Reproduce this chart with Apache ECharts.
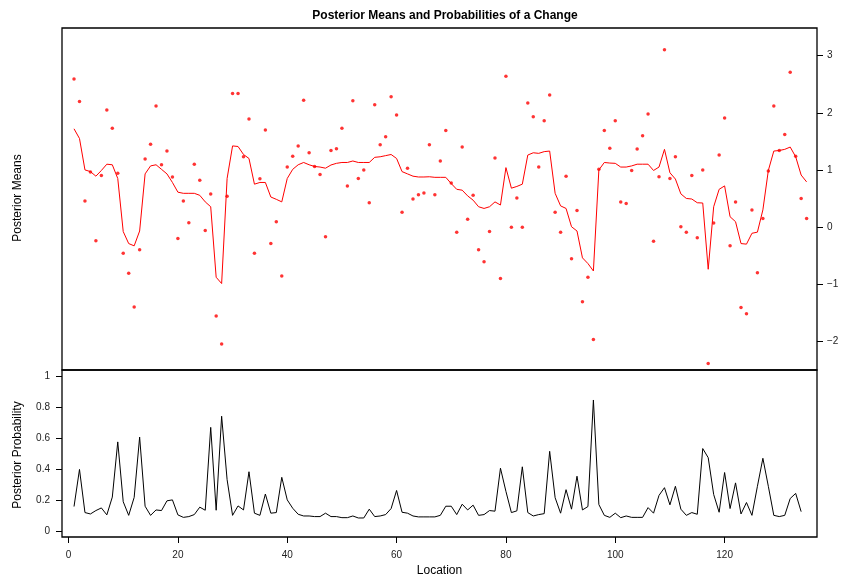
<!DOCTYPE html>
<html><head><meta charset="utf-8">
<script src="https://cdn.jsdelivr.net/npm/echarts@6/dist/echarts.min.js"></script>
<style>html,body{margin:0;padding:0;background:#fff}#c{width:844px;height:578px}</style>
</head><body><div id="c"></div>
<script>
// Observed data (red points), locations 1..135
const observed = [2.59,2.20,0.455,0.963,-0.24,0.90,2.05,1.73,0.94,-0.46,
-0.81,-1.40,-0.40,1.19,1.45,2.12,1.09,1.33,0.876,-0.20,
0.455,0.075,1.10,0.82,-0.06,0.58,-1.56,-2.05,0.54,2.34,
2.34,1.23,1.89,-0.46,0.846,1.70,-0.29,0.093,-0.86,1.05,
1.24,1.42,2.22,1.30,1.06,0.92,-0.17,1.34,1.37,1.73,
0.72,2.21,0.85,1.00,0.425,2.14,1.44,1.58,2.28,1.96,
0.26,1.03,0.49,0.566,0.595,1.44,0.566,1.156,1.69,0.77,
-0.09,1.40,0.135,0.555,-0.40,-0.61,-0.08,1.21,-0.90,2.64,
-0.005,0.51,-0.005,2.17,1.93,1.05,1.86,2.31,0.26,-0.09,
0.89,-0.555,0.29,-1.31,-0.88,-1.97,1.01,1.69,1.38,1.86,
0.44,0.41,0.99,1.366,1.60,1.98,-0.25,0.88,3.105,0.85,
1.23,0.006,-0.09,0.90,-0.19,1.00,-2.39,0.07,1.26,1.91,
-0.33,0.44,-1.41,-1.52,0.30,-0.80,0.15,0.98,2.12,1.34,
1.62,2.71,1.24,0.50,0.15];
// Posterior means (red line)
const postMeans = [1.72,1.55,1.00,0.97,0.89,0.99,1.10,1.09,0.85,-0.08,
-0.29,-0.33,-0.07,0.93,1.07,1.09,1.01,0.93,0.78,0.61,
0.59,0.59,0.59,0.555,0.44,0.355,-0.88,-0.99,0.85,1.42,
1.41,1.27,1.20,0.75,0.78,0.78,0.525,0.485,0.44,0.85,
1.01,1.09,1.13,1.09,1.06,1.05,1.03,1.086,1.115,1.13,
1.13,1.156,1.13,1.13,1.13,1.22,1.23,1.25,1.27,1.20,
0.97,0.93,0.89,0.876,0.876,0.88,0.87,0.87,0.87,0.76,
0.66,0.645,0.545,0.47,0.355,0.325,0.355,0.44,0.385,1.04,
0.68,0.71,0.75,1.26,1.30,1.29,1.32,1.33,0.59,0.37,
0.325,0.005,-0.07,-0.54,-0.64,-0.77,1.00,1.13,1.12,1.115,
1.05,1.05,1.07,1.10,1.10,1.10,0.99,1.05,1.36,0.95,
0.84,0.58,0.50,0.49,0.425,0.42,-0.74,0.355,0.66,0.72,
0.18,0.093,-0.29,-0.30,-0.11,-0.09,0.30,0.99,1.33,1.34,
1.36,1.40,1.23,0.91,0.79];
// Posterior probability of a change (black line), locations 1..134
const postProb = [0.157,0.397,0.118,0.109,0.131,0.148,0.103,0.218,0.575,0.188,
0.10,0.216,0.606,0.159,0.10,0.135,0.131,0.194,0.20,0.103,
0.087,0.092,0.105,0.153,0.133,0.669,0.133,0.741,0.331,0.10,
0.161,0.135,0.382,0.114,0.10,0.238,0.114,0.118,0.346,0.20,
0.146,0.107,0.096,0.096,0.092,0.092,0.114,0.092,0.092,0.085,
0.085,0.096,0.083,0.083,0.14,0.092,0.096,0.105,0.144,0.261,
0.12,0.114,0.096,0.09,0.09,0.09,0.09,0.10,0.159,0.159,
0.105,0.172,0.135,0.166,0.10,0.105,0.131,0.127,0.405,0.255,
0.118,0.129,0.414,0.118,0.096,0.105,0.111,0.514,0.214,0.114,
0.266,0.14,0.353,0.135,0.157,0.846,0.17,0.10,0.087,0.114,
0.085,0.096,0.087,0.087,0.087,0.15,0.114,0.229,0.279,0.168,
0.288,0.14,0.10,0.118,0.107,0.532,0.473,0.235,0.12,0.377,
0.144,0.31,0.109,0.183,0.10,0.288,0.469,0.288,0.10,0.092,
0.10,0.209,0.242,0.124];
const xTicks = [0,20,40,60,80,100,120];
const meanTicks = [-2,-1,0,1,2,3];
const probTicks = [0,0.2,0.4,0.6,0.8,1];

const pts = observed.map((v,i)=>[i+1,v]);
const mline = postMeans.map((v,i)=>[i+1,v]);
const pline = postProb.map((v,i)=>[i+1,v]);
const font = 'Liberation Sans, Arial, sans-serif';
const chart = echarts.init(document.getElementById('c'));
chart.setOption({
  animation:false,
  backgroundColor:'#fff',
  title:{text:'Posterior Means and Probabilities of a Change',left:440,top:5,textAlign:'center',
    textStyle:{fontFamily:font,fontSize:12,fontWeight:'bold',color:'#000'}},
  grid:[
    {left:62,top:28,width:755,height:342,show:true,borderColor:'#000',borderWidth:1.3,backgroundColor:'transparent'},
    {left:62,top:370,width:755,height:167,show:true,borderColor:'#000',borderWidth:1.3,backgroundColor:'transparent'}
  ],
  xAxis:[
    {type:'value',gridIndex:0,min:-1.2,max:136.9,show:true,axisLine:{show:false,onZero:false},axisTick:{show:false},axisLabel:{show:false},splitLine:{show:false}},
    {type:'value',gridIndex:1,min:-1.2,max:136.9,position:'bottom',name:'Location',nameLocation:'middle',nameGap:28,
      nameTextStyle:{fontFamily:font,fontSize:12,color:'#000'},
      axisLine:{show:false,onZero:false},
      axisTick:{show:true,inside:false,length:6,lineStyle:{color:'#000'},customValues:xTicks},
      axisLabel:{fontFamily:font,fontSize:10,color:'#222',margin:13,customValues:xTicks},
      splitLine:{show:false}}
  ],
  yAxis:[
    {type:'value',gridIndex:0,position:'right',min:-2.504,max:3.485,
      axisLine:{show:false,onZero:false},
      axisTick:{show:true,inside:false,length:6,lineStyle:{color:'#000'},customValues:meanTicks},
      axisLabel:{fontFamily:font,fontSize:10,color:'#222',margin:10,customValues:meanTicks,
        formatter:v=>String(v).replace('-','\u2212')},
      splitLine:{show:false}},
    {type:'value',gridIndex:1,position:'left',min:-0.04,max:1.04,
      axisLine:{show:false,onZero:false},
      axisTick:{show:true,inside:false,length:6,lineStyle:{color:'#000'},customValues:probTicks},
      axisLabel:{fontFamily:font,fontSize:10,color:'#222',margin:12,customValues:probTicks},
      splitLine:{show:false}}
  ],
  graphic:[
    {type:'text',style:{text:'Posterior Means',font:'12px '+font,fill:'#000',textAlign:'center',textVerticalAlign:'middle'},rotation:Math.PI/2,x:18,y:198},
    {type:'text',style:{text:'Posterior Probability',font:'12px '+font,fill:'#000',textAlign:'center',textVerticalAlign:'middle'},rotation:Math.PI/2,x:18,y:455}
  ],
  series:[
    {type:'scatter',xAxisIndex:0,yAxisIndex:0,data:pts,symbol:'circle',symbolSize:3.5,itemStyle:{color:'#ff0000'},silent:true},
    {type:'line',xAxisIndex:0,yAxisIndex:0,data:mline,symbol:'none',lineStyle:{color:'#ff0000',width:1},silent:true},
    {type:'line',xAxisIndex:1,yAxisIndex:1,data:pline,symbol:'none',lineStyle:{color:'#000',width:1},silent:true}
  ]
});
</script></body></html>
